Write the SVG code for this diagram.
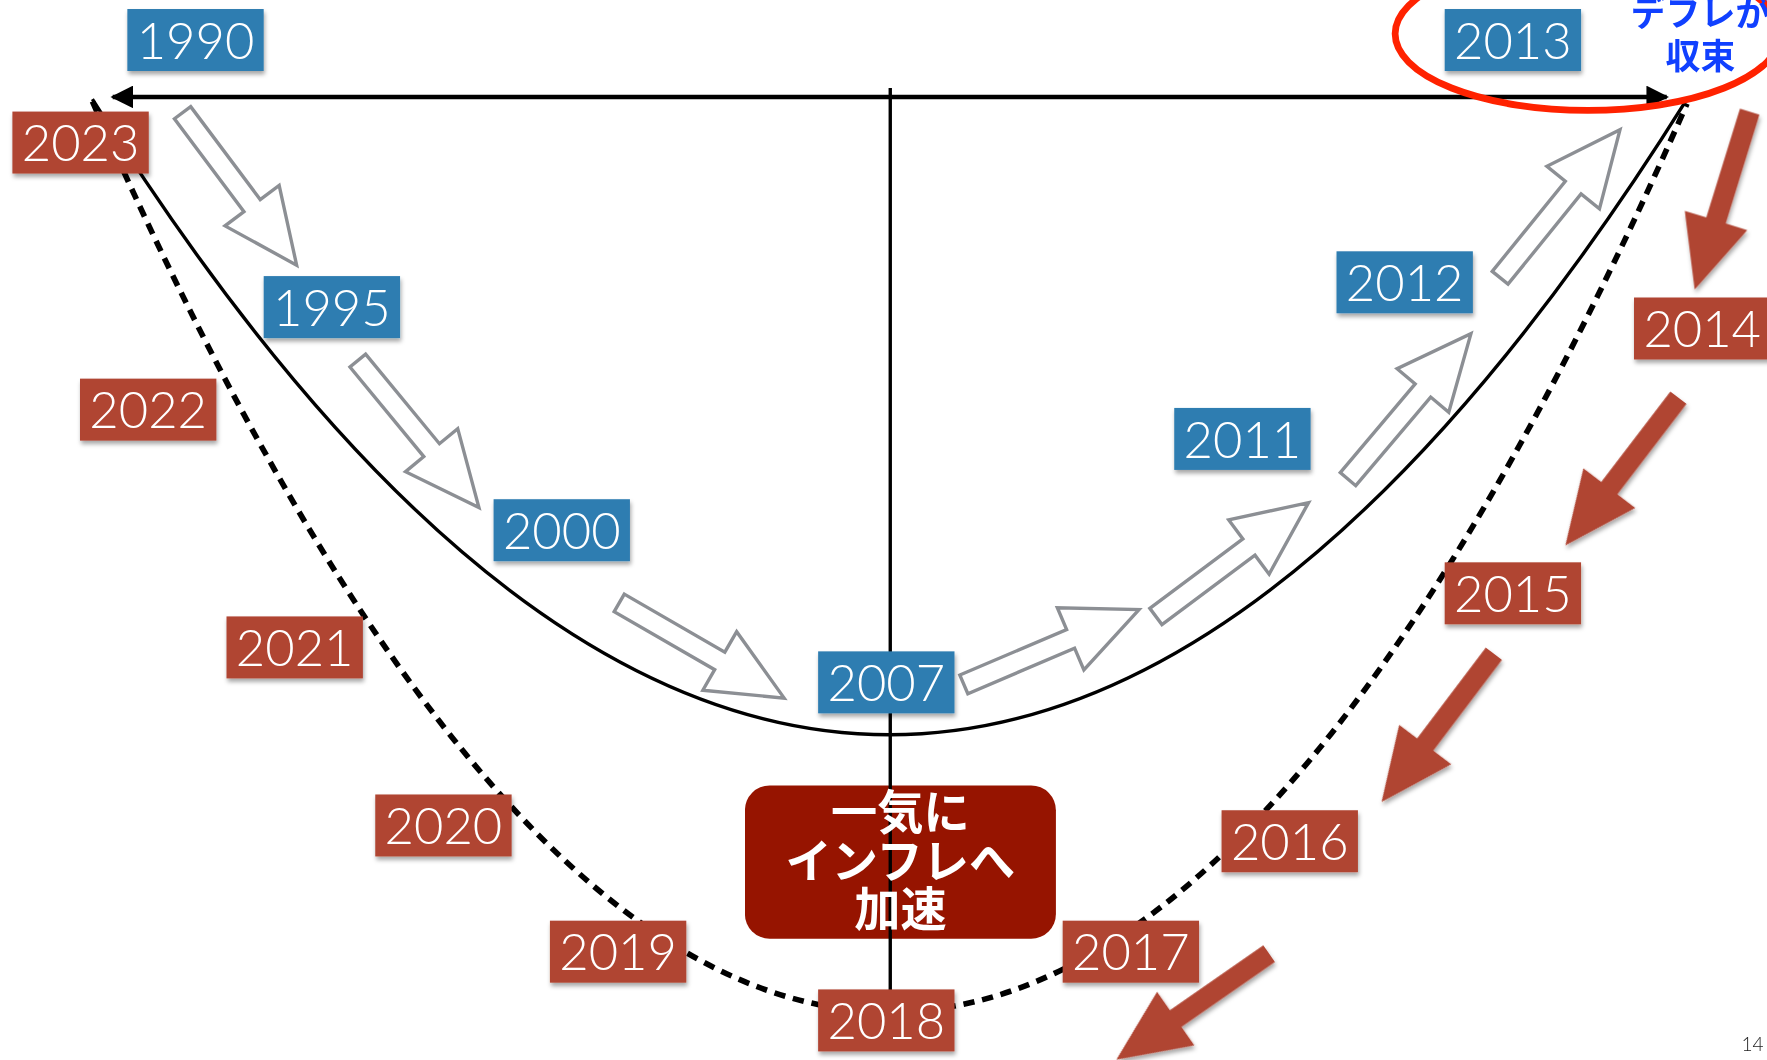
<svg xmlns="http://www.w3.org/2000/svg" xmlns:xlink="http://www.w3.org/1999/xlink" width="1767" height="1060" viewBox="0 0 1767 1060">
<style>
.yr{font-family:Lato,"Liberation Sans",sans-serif;font-size:45px;font-weight:300;fill:#ffffff;text-anchor:middle}
.blue{fill:#2F7DB1}
.red{fill:#B04432}
.hollow{fill:#ffffff;stroke:#8C8F94;stroke-width:3}
.solid{fill:#B04432}
.curve{fill:none;stroke:#000;stroke-width:3}
.dash{fill:none;stroke:#000;stroke-width:5;stroke-dasharray:10 7}
.jp{font-family:"Noto Sans CJK JP","Noto Sans",sans-serif;font-weight:700;text-anchor:middle}
</style>
<defs>
<filter id="sh" x="-20%" y="-20%" width="140%" height="160%">
<feDropShadow dx="1" dy="3" stdDeviation="2" flood-color="#000" flood-opacity="0.35"/>
</filter>
<path id="ha" d="M0,-9 H103 V-30 L169,0 L103,30 V9 H0 Z"/>
<path id="ra" d="M0,-9 H101 V-29 L165,0 L101,29 V9 H0 Z"/>
<marker id="ah" viewBox="0 0 20 20" refX="18" refY="10" markerWidth="20" markerHeight="20" markerUnits="userSpaceOnUse" orient="auto-start-reverse">
<path d="M0,0 L20,10 L0,20 Z" fill="#000"/>
</marker>
</defs>
<rect width="1767" height="1060" fill="#ffffff"/>
<g transform="scale(1.12691)">
<g id="connectors">
<path class="curve" d="M82,88 Q789.5,1216 1497,88"/>
<path class="dash" d="M82,90 Q789.5,1705 1497,92"/>
<line x1="100" y1="86" x2="1479" y2="86" stroke="#000" stroke-width="4" marker-start="url(#ah)" marker-end="url(#ah)"/>
<g class="hollow">
<use xlink:href="#ha" transform="translate(162,100) rotate(53.2)"/>
<use xlink:href="#ha" transform="translate(317.5,320) rotate(50.5)"/>
<use xlink:href="#ha" transform="translate(549.5,535) rotate(30)"/>
<use xlink:href="#ha" transform="translate(855.3,607.3) rotate(-23.1)"/>
<use xlink:href="#ha" transform="translate(1025.7,547) rotate(-36.7)"/>
<use xlink:href="#ha" transform="translate(1196.2,425.2) rotate(-49.8)"/>
<use xlink:href="#ha" transform="translate(1331.2,246.5) rotate(-51)"/>
</g>
<g class="solid" filter="url(#sh)">
<use xlink:href="#ra" transform="translate(1552.6,99.2) rotate(107.2)"/>
<use xlink:href="#ra" transform="translate(1489.4,352.9) rotate(127.4)"/>
<use xlink:href="#ra" transform="translate(1325.6,580.1) rotate(127.1)"/>
<use xlink:href="#ra" transform="translate(1126.2,846.2) rotate(145.2)"/>
</g>
</g>
<g id="callout">
<rect x="661" y="697" width="276" height="136" rx="22" fill="#961400"/>
<line x1="790" y1="78" x2="790" y2="880" stroke="#000" stroke-width="3"/>
<text class="jp" font-size="41" fill="#ffffff"><tspan x="799" y="736">一気に</tspan><tspan x="799" y="779">インフレへ</tspan><tspan x="799" y="822">加速</tspan></text>
</g>
<g id="note">
<ellipse cx="1409" cy="30" rx="171" ry="68" fill="none" stroke="#FF2200" stroke-width="6"/>
<text class="jp" font-size="31" fill="#1040FF"><tspan x="1509" y="23">デフレが</tspan><tspan x="1509" y="61">収束</tspan></text>
</g>
<g id="n1990" filter="url(#sh)"><rect class="blue" x="113" y="8" width="121" height="55"/><text class="yr" x="173.5" y="52">1990</text></g>
<g id="n1995" filter="url(#sh)"><rect class="blue" x="234" y="245" width="121" height="55"/><text class="yr" x="294.5" y="289">1995</text></g>
<g id="n2000" filter="url(#sh)"><rect class="blue" x="438" y="443" width="121" height="55"/><text class="yr" x="498.5" y="487">2000</text></g>
<g id="n2007" filter="url(#sh)"><rect class="blue" x="726" y="578" width="121" height="55"/><text class="yr" x="786.5" y="622">2007</text></g>
<g id="n2011" filter="url(#sh)"><rect class="blue" x="1042" y="362" width="121" height="55"/><text class="yr" x="1102.5" y="406">2011</text></g>
<g id="n2012" filter="url(#sh)"><rect class="blue" x="1186" y="223" width="121" height="55"/><text class="yr" x="1246.5" y="267">2012</text></g>
<g id="n2013" filter="url(#sh)"><rect class="blue" x="1282" y="8" width="121" height="55"/><text class="yr" x="1342.5" y="52">2013</text></g>
<g id="n2014" filter="url(#sh)"><rect class="red" x="1450" y="264" width="121" height="55"/><text class="yr" x="1510.5" y="308">2014</text></g>
<g id="n2015" filter="url(#sh)"><rect class="red" x="1282" y="499" width="121" height="55"/><text class="yr" x="1342.5" y="543">2015</text></g>
<g id="n2016" filter="url(#sh)"><rect class="red" x="1084" y="719" width="121" height="55"/><text class="yr" x="1144.5" y="763">2016</text></g>
<g id="n2017" filter="url(#sh)"><rect class="red" x="943" y="817" width="121" height="55"/><text class="yr" x="1003.5" y="861">2017</text></g>
<g id="n2018" filter="url(#sh)"><rect class="red" x="726" y="878" width="121" height="55"/><text class="yr" x="786.5" y="922">2018</text></g>
<g id="n2019" filter="url(#sh)"><rect class="red" x="488" y="817" width="121" height="55"/><text class="yr" x="548.5" y="861">2019</text></g>
<g id="n2020" filter="url(#sh)"><rect class="red" x="333" y="705" width="121" height="55"/><text class="yr" x="393.5" y="749">2020</text></g>
<g id="n2021" filter="url(#sh)"><rect class="red" x="201" y="547" width="121" height="55"/><text class="yr" x="261.5" y="591">2021</text></g>
<g id="n2022" filter="url(#sh)"><rect class="red" x="71" y="336" width="121" height="55"/><text class="yr" x="131.5" y="380">2022</text></g>
<g id="n2023" filter="url(#sh)"><rect class="red" x="11" y="99" width="121" height="55"/><text class="yr" x="71.5" y="143">2023</text></g>
<text x="1565" y="933" font-family="Lato,'Liberation Sans',sans-serif" font-weight="300" font-size="17" fill="#222" text-anchor="end">14</text>
</g>
</svg>
